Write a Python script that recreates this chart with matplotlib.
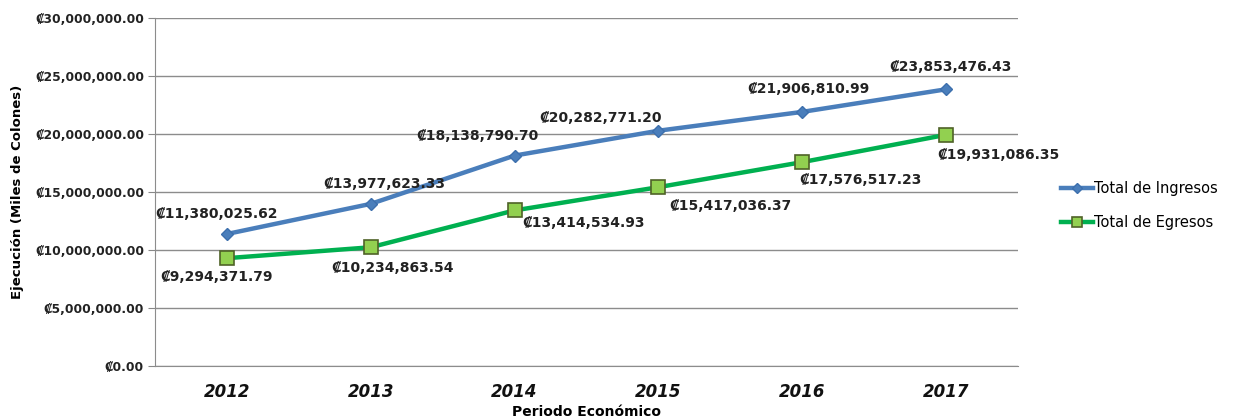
import matplotlib
matplotlib.use('Agg')

import matplotlib.pyplot as plt

# ---------- Data ----------

years = ["2012", "2013", "2014", "2015", "2016", "2017"]
ingresos = [11380025.62, 13977623.33, 18138790.70, 20282771.20, 21906810.99, 23853476.43]
egresos = [9294371.79, 10234863.54, 13414534.93, 15417036.37, 17576517.23, 19931086.35]

# label offsets in pixels (dx, dy)
ing_offsets = [(-10, 20), (14, 20), (-37, 20), (-58, 13), (6, 23), (4, 22)]
egr_offsets = [(-10, -19), (22, -21), (69, -13), (72, -19), (58, -18), (52, -20)]


def fmt(v):
    return "\u20a1{:,.2f}".format(v)


# ---------- Figure ----------

fig = plt.figure(figsize=(12.39, 4.19), dpi=100)
ax = fig.add_axes([0.1251, 0.1265, 0.6965, 0.8305])

x = list(range(len(years)))

ax.plot(x, ingresos, color="#4a7ebb", linewidth=3.2, marker="D", markersize=6.5,
        markerfacecolor="#4a7ebb", markeredgecolor="#3c6fad", label="Total de Ingresos", zorder=3)
ax.plot(x, egresos, color="#00b050", linewidth=3.2, marker="s", markersize=10,
        markerfacecolor="#92d050", markeredgecolor="#4f6228", markeredgewidth=1.2,
        label="Total de Egresos", zorder=3)

for i, v in enumerate(ingresos):
    ax.annotate(fmt(v), (x[i], v), xytext=ing_offsets[i], textcoords="offset pixels",
                ha="center", va="center", fontsize=10, fontweight="bold", color="#222222")
for i, v in enumerate(egresos):
    ax.annotate(fmt(v), (x[i], v), xytext=egr_offsets[i], textcoords="offset pixels",
                ha="center", va="center", fontsize=10, fontweight="bold", color="#222222")

ax.set_xlim(-0.5, 5.5)
ax.set_ylim(0, 30000000)
ax.set_yticks(range(0, 30000001, 5000000))
ax.set_yticklabels([fmt(t) for t in range(0, 30000001, 5000000)],
                   fontsize=8.8, fontweight="bold", color="#222222")
ax.set_xticks(x)
ax.set_xticklabels(years, fontsize=12, fontweight="bold", fontstyle="italic", color="#111111")
ax.tick_params(axis="x", length=0, pad=12)
ax.tick_params(axis="y", length=5, color="#888888", pad=3)

ax.grid(axis="y", color="#8c8c8c", linewidth=1)
ax.set_axisbelow(True)
for s in ["top", "right"]:
    ax.spines[s].set_visible(False)
ax.spines["left"].set_color("#8c8c8c")
ax.spines["bottom"].set_color("#8c8c8c")

ax.set_ylabel("Ejecución (Miles de Colones)", fontsize=9.5, fontweight="bold", labelpad=8)
ax.set_xlabel("Periodo Económico", fontsize=10, fontweight="bold", labelpad=3)

fig.legend(loc="center left", bbox_to_anchor=(0.846, 0.51), frameon=False,
           fontsize=10.5, handlelength=2.2, handletextpad=0.05, labelspacing=1.3,
           markerscale=0.75)

fig.savefig("out.png", dpi=100)
